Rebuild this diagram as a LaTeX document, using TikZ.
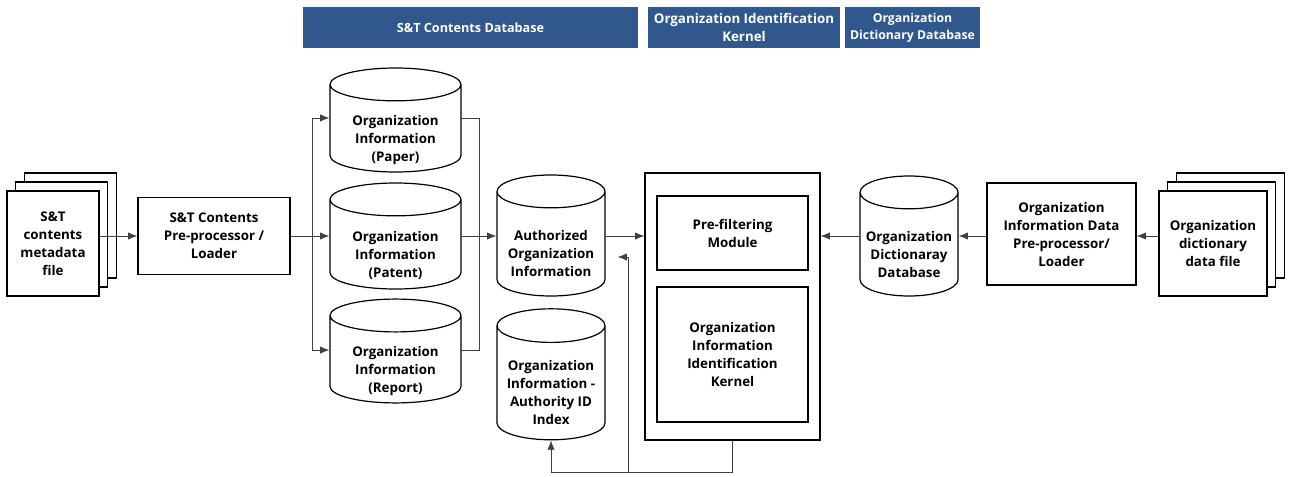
\documentclass[tikz,border=0pt]{standalone}
\usepackage{fontspec}
\setmainfont{Open Sans}
\usetikzlibrary{arrows}
\usetikzlibrary{arrows.meta}
\usetikzlibrary{positioning}
\usetikzlibrary{calc}
\usetikzlibrary{shadows}
\usetikzlibrary{shapes.geometric}
\definecolor{hdrblue}{RGB}{48,88,140}
\newcommand{\dbtext}[1]{\raisebox{-8.5pt}[\height][\depth]{\begin{tabular}{@{}c@{}}#1\end{tabular}}}
\tikzset{hdr/.style = {fill=hdrblue, text=white, align=center, inner sep=0,
    font=\bfseries\fontsize{9.5}{13.5}\selectfont}}
\tikzset{blk/.style = {draw, line width=0.9pt, fill=white, align=center, inner sep=0,
    font=\bfseries\fontsize{10}{13.5}\selectfont}}
\tikzset{db/.style = {blk, cylinder, shape border rotate=90, aspect=0.38}}
\tikzset{pages/.style = {blk, double copy shadow={shadow xshift=6.5pt, shadow yshift=6.75pt,
    draw, line width=0.9pt, fill=white}}}
\tikzset{arr/.style = {-{Latex[length=7pt, width=5.5pt]}, line width=0.6pt, black!75}}
\tikzset{ln/.style = {line width=0.6pt, black!75}}

\begin{document}
\begin{tikzpicture}[x=0.75pt, y=-0.75pt]
  \useasboundingbox (0,0) rectangle (1289,476);
  % headers
  \node [hdr, minimum width=251.25pt, minimum height=30.75pt] (hdrst) at (470.5,27.5) {S\&T Contents Database};
  \node [hdr, minimum width=144pt, minimum height=30.75pt, font=\bfseries\fontsize{10}{14}\selectfont] (hdrkernel) at (744,27.5) {Organization Identification\\Kernel};
  \node [hdr, minimum width=101.25pt, minimum height=30.75pt, font=\bfseries\fontsize{9.2}{13}\selectfont] (hdrdict) at (912.5,27.5) {Organization\\Dictionary Database};
  % S&T side
  \node [pages, minimum width=69pt, minimum height=78.75pt] (stfile) at (53,243.5) {S\&T\\contents\\metadata\\file};
  \node [blk, minimum width=114pt, minimum height=57.75pt] (stpre) at (214,236) {S\&T Contents\\Pre-processor /\\Loader};
  \node [db, minimum width=98.25pt, minimum height=78pt] (paper) at (395.5,128.5) {\dbtext{Organization\\Information\\(Paper)}};
  \node [db, minimum width=98.25pt, minimum height=79.5pt] (patent) at (395.5,244.5) {\dbtext{Organization\\Information\\(Patent)}};
  \node [db, minimum width=98.25pt, minimum height=73.5pt] (report) at (395.5,359.5) {\dbtext{Organization\\Information\\(Report)}};
  \node [db, minimum width=81pt, minimum height=90.75pt] (auth) at (551,244) {\dbtext{Authorized\\Organization\\Information}};
  \node [db, minimum width=81pt, minimum height=98.25pt] (authid) at (551,383) {\dbtext{Organization\\Information -\\Authority ID\\Index}};
  % kernel
  \node [blk, minimum width=131.25pt, minimum height=200.25pt] (kernel) at (732.5,306.5) {};
  \node [blk, minimum width=113.25pt, minimum height=55.5pt] (prefilter) at (732.5,233) {Pre-filtering\\Module};
  \node [blk, minimum width=113.25pt, minimum height=101.25pt] (oiik) at (732.5,354.5) {Organization\\Information\\Identification\\Kernel};
  % dictionary side
  \node [db, minimum width=73.5pt, minimum height=90pt] (dictdb) at (909,244.5) {\dbtext{Organization\\Dictionaray\\Database}};
  \node [blk, minimum width=111.75pt, minimum height=76.5pt] (oipre) at (1061.5,234) {Organization\\Information Data\\Pre-processor/\\Loader};
  \node [pages, minimum width=81pt, minimum height=78.75pt] (dictfile) at (1213,243.5) {Organization\\dictionary\\data file};

  % connectors
  \draw [arr] (stfile.east |- stpre.west) -- (stpre.west);
  \coordinate (fanL) at ($(stpre.east)!0.55!(stpre.east -| patent.west)$);
  \draw [arr] (stpre.east) -- (stpre.east -| patent.west);
  \draw [arr] (fanL) |- ([yshift=7.9pt]paper.west);
  \draw [arr] (fanL) |- ([yshift=7.1pt]report.west);
  \coordinate (fanR) at ($(stpre.east -| patent.east)!0.5!(stpre.east -| auth.west)$);
  \draw [ln] ([yshift=7.9pt]paper.east) -| (fanR) |- ([yshift=7.1pt]report.east);
  \draw [arr] (stpre.east -| patent.east) -- (stpre.east -| auth.west);
  \draw [arr] (stpre.east -| auth.east) -- (stpre.east -| kernel.west);
  \coordinate (loopK) at ($(kernel.south)+(0,32)$);
  \draw [arr] (kernel.south) -- (loopK) -| (authid.south);
  \coordinate (loopA) at ($(auth.east)!0.58!(auth.east -| kernel.west)$);
  \draw [arr] (loopA |- loopK) |- ($(auth.east)+(12,13)$);
  \draw [arr] (stpre.east -| dictdb.west) -- (stpre.east -| kernel.east);
  \draw [arr] (stpre.east -| oipre.west) -- (stpre.east -| dictdb.east);
  \draw [arr] (stpre.east -| dictfile.west) -- (stpre.east -| oipre.east);
\end{tikzpicture}
\end{document}
